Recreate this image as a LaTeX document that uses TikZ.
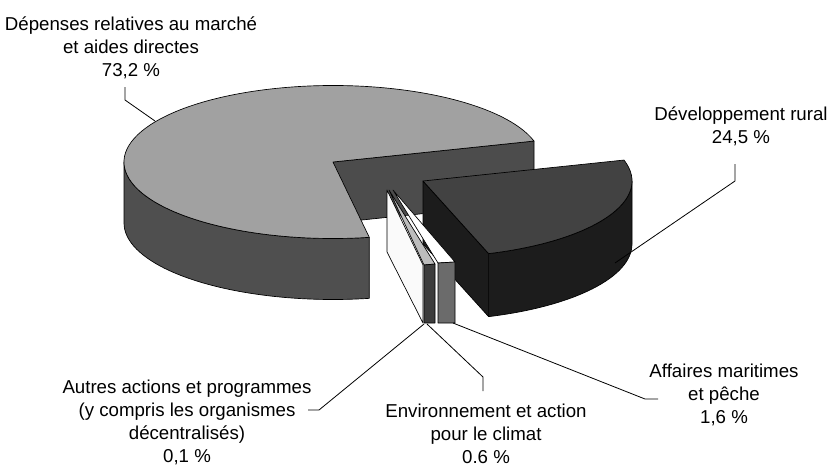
\documentclass[tikz,border=0pt]{standalone}
\usepackage{fontspec}
\setmainfont{Liberation Sans}
\usetikzlibrary{calc}

\begin{document}
\begin{tikzpicture}
			[
				x = 0.75pt, y = -0.75pt,
				face/.style = {draw = black, line width = 0.5pt, line join = round},
				rim/.style = {x radius = 209, y radius = 76.5},
				leader/.style = {draw = black, line width = 0.6pt},
				lbl/.style = {align = center, inner sep = 0pt, anchor = base, font = \fontsize{14}{17.25}\selectfont},
			]
			\useasboundingbox (0,0) rectangle (832,465);
			\coordinate (main) at (333,162);
			\coordinate (dev) at (423,181);
			% market slice
			\filldraw[face, fill = black!70] (main) -- ++(-15.9:209 and 76.5) -- ++(0,61) -- ++(164.1:209 and 76.5) -- cycle;
			\filldraw[face, fill = black!69] (main) ++(180:209 and 76.5) arc[rim, start angle = 180, end angle = 80] -- ++(0,61) arc[rim, start angle = 80, end angle = 180] -- cycle;
			\filldraw[face, fill = black!37] (main) -- ++(-15.9:209 and 76.5) arc[rim, start angle = -15.9, end angle = -280] -- cycle;
			% rural slice
			\filldraw[face, fill = black!89] (dev) -- ++(71.7:209 and 76.5) -- ++(0,63) -- ++(251.7:209 and 76.5) -- cycle;
			\filldraw[face, fill = black!89] (dev) ++(71.7:209 and 76.5) arc[rim, start angle = 71.7, end angle = 0] -- ++(0,63) arc[rim, start angle = 0, end angle = 71.7] -- cycle;
			\filldraw[face, fill = black!74] (dev) -- ++(71.7:209 and 76.5) arc[rim, start angle = 71.7, end angle = -15.9] -- cycle;
			% small slices
			\filldraw[face, fill = black!2] (387,190) -- (423,265) -- (423,323) -- (387,252) -- cycle;
			\filldraw[face, fill = black!26] (389,190) -- (424,265) -- (435,264) -- cycle;
			\filldraw[face, fill = black!76] (424,265) -- (435,264) -- (435,323) -- (424,323) -- cycle;
			\filldraw[face, fill = white] (393,190) -- (438,263) -- (455,262) -- cycle;
			\filldraw[face, fill = black!58] (438,263) -- (455,262) -- (455,323) -- (438,323) -- cycle;
			% labels (anchored on the last line)
			\node (lblmain) [lbl] at (131,76) {Dépenses relatives au marché\\et aides directes\\73,2 \%};
			\node (lbldev) [lbl] at (741,143) {Développement rural\\24,5 \%};
			\node (lblaff) [lbl] at (724,423) {Affaires maritimes\\et pêche\\1,6 \%};
			\node (lblenv) [lbl] at (486,463) {Environnement et action\\pour le climat\\0.6 \%};
			\node (lblaut) [lbl] at (187,462) {Autres actions et programmes\\(y compris les organismes\\décentralisés)\\0,1 \%};
			% leaders
			\coordinate (mainpt) at (155,121);
			\coordinate (mainknee) at (125,100);
			\coordinate (mainend) at (125,87);
			\coordinate (devpt) at (615,263);
			\coordinate (devknee) at (735,181);
			\coordinate (devend) at (735,164);
			\coordinate (autpt) at (424,324);
			\coordinate (autknee) at (319,410);
			\coordinate (autend) at (308,410);
			\coordinate (envpt) at (427,324);
			\coordinate (envknee) at (483,377);
			\coordinate (envend) at (483,391);
			\coordinate (affpt) at (453,323);
			\coordinate (affknee) at (645,399);
			\coordinate (affend) at (658,399);
			\draw[leader] (mainpt) -- (mainknee) -- (mainend);
			\draw[leader] (devpt) -- (devknee) -- (devend);
			\draw[leader] (autpt) -- (autknee) -- (autend);
			\draw[leader] (envpt) -- (envknee) -- (envend);
			\draw[leader] (affpt) -- (affknee) -- (affend);
		\end{tikzpicture}
\end{document}
